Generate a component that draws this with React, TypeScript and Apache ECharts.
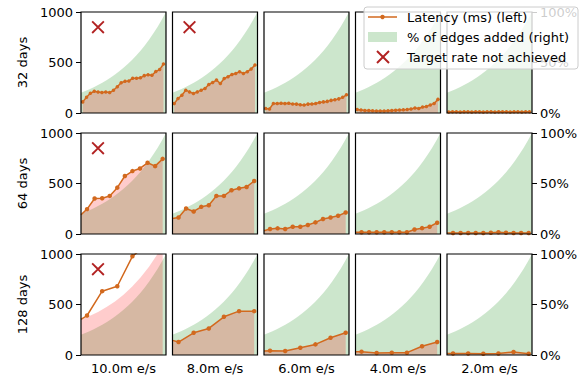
import React, { useEffect, useRef } from "react";
import * as echarts from "echarts";

// ---------- data ----------
const rateLabels = ["10.0m e/s", "8.0m e/s", "6.0m e/s", "4.0m e/s", "2.0m e/s"];
const windowLabels = ["32 days", "64 days", "128 days"];

// x positions (% of run) of latency samples per window
const time32 = [2, 6.5, 11, 15.6, 20.1, 24.6, 29.1, 33.7, 38.2, 42.7, 47.2, 51.8, 56.3, 60.8, 65.3, 69.9, 74.4, 78.9, 83.4, 88, 92.5, 97];
const time64 = [0, 7.1, 16, 24.9, 33.8, 42.7, 51.6, 60.5, 69.4, 78.3, 87.2, 96.1];
const time128 = [0, 7.1, 24.9, 42.7, 60.5, 78.3, 96.1];

// latency (ms)
const lat32_10 = [110, 155, 195, 215, 207, 204, 207, 202, 225, 260, 300, 315, 316, 345, 345, 348, 370, 378, 374, 410, 430, 485];
const lat32_8 = [93, 143, 176, 226, 209, 193, 209, 226, 243, 282, 302, 326, 292, 342, 359, 382, 392, 409, 392, 409, 435, 475];
const lat32_6 = [45, 40, 95, 95, 97, 93, 97, 90, 88, 82, 80, 88, 90, 95, 105, 110, 115, 125, 132, 140, 155, 180];
const lat32_4 = [35, 30, 25, 25, 22, 20, 20, 20, 22, 25, 28, 30, 32, 35, 40, 50, 45, 60, 65, 80, 95, 135];
const lat32_2 = [10, 12, 12, 10, 12, 12, 10, 12, 12, 10, 12, 12, 10, 12, 12, 12, 10, 12, 12, 10, 12, 12];

const lat64_10 = [190, 246, 351, 354, 377, 459, 574, 623, 649, 705, 672, 744];
const lat64_8 = [154, 164, 252, 223, 269, 285, 377, 377, 433, 452, 466, 525];
const lat64_6 = [33, 49, 56, 49, 72, 72, 89, 115, 148, 164, 180, 213];
const lat64_4 = [18, 18, 18, 18, 18, 18, 18, 18, 45, 58, 72, 112];
const lat64_2 = [10, 10, 10, 10, 10, 10, 12, 18, 12, 10, 10, 10];

const lat128_10 = [352, 391, 632, 681, 977, 1100, 1250];
const lat128_8 = [145, 128, 220, 263, 378, 434, 434];
const lat128_6 = [39, 43, 39, 72, 105, 171, 220];
const lat128_4 = [33, 33, 20, 23, 23, 86, 128];
const lat128_2 = [15, 15, 15, 12, 15, 30, 12];

// shaded area under latency where it differs from the latency line (128 days, 10.0m e/s)
const capTime128_10 = [0, 10, 20, 30, 40, 50, 60, 70, 80, 90, 96.1];
const capFill128_10 = [350, 385, 425, 475, 530, 597, 675, 767, 875, 1000, 1050];

// % of edges added (right axis)
const edgesTime = [0, 5, 10, 15, 20, 25, 30, 35, 40, 45, 50, 55, 60, 65, 70, 75, 80, 85, 90, 95, 100];
const edgesPct = [20, 21.7, 23.4, 25.5, 27.6, 29.9, 32.4, 35.1, 38.1, 41.3, 44.7, 48.5, 52.5, 56.9, 61.7, 66.9, 72.5, 78.6, 85.1, 92.3, 100];

// panels where the target rate was not achieved: [row, col]
const notAchieved = [[0, 0], [0, 1], [1, 0], [2, 0]];
const notAchievedMark = [20, 850];

// ---------- layout / style ----------
const FONT = "DejaVu Sans";
const COL_LEFT = [81, 172.5, 264, 355.5, 447];
const ROW_TOP = [12, 133, 254];
const PW = 85;
const PH = 101;
const ORANGE = "#d2691e";
const XRED = "#b22222";
const X_PATH = "path://M1,0 L5,4 L9,0 L10,1 L6,5 L10,9 L9,10 L5,6 L1,10 L0,9 L4,5 L0,1 Z";

const rowTimes = [time32, time64, time128];
const rowLat = [
  [lat32_10, lat32_8, lat32_6, lat32_4, lat32_2],
  [lat64_10, lat64_8, lat64_6, lat64_4, lat64_2],
  [lat128_10, lat128_8, lat128_6, lat128_4, lat128_2],
];

function buildOption() {
  const grid: any[] = [];
  const xAxis: any[] = [];
  const yAxis: any[] = [];
  const series: any[] = [];
  const graphic: any[] = [];
  const txt = { color: "#000", fontSize: 13, fontFamily: FONT };

  for (let r = 0; r < 3; r++) {
    for (let c = 0; c < 5; c++) {
      const i = r * 5 + c;
      grid.push({ left: COL_LEFT[c], top: ROW_TOP[r], width: PW, height: PH });
      xAxis.push({
        type: "value", gridIndex: i, min: 0, max: 100,
        axisLine: { show: false }, axisTick: { show: false }, axisLabel: { show: false },
        splitLine: { show: false },
        name: r === 2 ? rateLabels[c] : "", nameLocation: "middle", nameGap: 7,
        nameTextStyle: txt,
      });
      yAxis.push({
        type: "value", gridIndex: i, position: "left", min: 0, max: 1000, interval: 500,
        axisLine: { show: false },
        axisTick: { show: c === 0, length: 5, lineStyle: { color: "#000", width: 1 } },
        axisLabel: { show: c === 0, margin: 8, formatter: (v: number) => String(v), ...txt },
        splitLine: { show: false },
        name: c === 0 ? windowLabels[r] : "", nameLocation: "middle", nameRotate: 90, nameGap: 52,
        nameTextStyle: txt,
      });
      yAxis.push({
        type: "value", gridIndex: i, position: "right", min: 0, max: 100, interval: 50,
        axisLine: { show: false },
        axisTick: { show: c === 4, length: 5, lineStyle: { color: "#000", width: 1 } },
        axisLabel: { show: c === 4, margin: 8, formatter: "{value}%", ...txt },
        splitLine: { show: false },
      });

      // green: % of edges added
      series.push({
        type: "line", xAxisIndex: i, yAxisIndex: 2 * i + 1,
        data: edgesTime.map((x, k) => [x, edgesPct[k]]),
        symbol: "none", lineStyle: { width: 0 }, smooth: false,
        areaStyle: { color: "#008000", opacity: 0.2 }, silent: true, z: 1,
      });

      const times = rowTimes[r];
      const lat = rowLat[r][c];
      const pairs = times.map((x, k) => [x, lat[k]]);
      const fillPairs = r === 2 && c === 0
        ? capTime128_10.map((x, k) => [x, capFill128_10[k]])
        : pairs;
      series.push({
        type: "line", xAxisIndex: i, yAxisIndex: 2 * i,
        data: fillPairs, symbol: "none", lineStyle: { width: 0 },
        areaStyle: { color: "#ff0000", opacity: 0.2 }, silent: true, z: 2,
      });
      series.push({
        type: "line", xAxisIndex: i, yAxisIndex: 2 * i,
        data: pairs.map((p, k) => (r > 0 && k === 0 ? { value: p, symbol: "none" } : p)),
        symbol: "circle", symbolSize: r === 0 ? 3.5 : 4.5, showAllSymbol: true,
        itemStyle: { color: ORANGE }, lineStyle: { color: ORANGE, width: 1.5 }, z: 3,
      });
      if (notAchieved.some(([rr, cc]) => rr === r && cc === c)) {
        series.push({
          type: "scatter", xAxisIndex: i, yAxisIndex: 2 * i,
          data: [notAchievedMark], symbol: X_PATH, symbolSize: 13,
          itemStyle: { color: XRED, opacity: 1 }, z: 4,
        });
      }
      graphic.push({
        type: "rect", z: 50, silent: true,
        shape: { x: COL_LEFT[c], y: ROW_TOP[r], width: PW, height: PH },
        style: { fill: "none", stroke: "#000", lineWidth: 1.2 },
      });
    }
  }

  // legend
  const LX = 364, LY = 7;
  graphic.push({
    type: "group", z: 100, children: [
      { type: "rect", z: 100, shape: { x: LX, y: LY, width: 214, height: 62, r: 3 },
        style: { fill: "rgba(255,255,255,0.8)", stroke: "#cccccc", lineWidth: 1 } },
      { type: "line", z: 101, shape: { x1: LX + 4, y1: LY + 10, x2: LX + 33, y2: LY + 10 },
        style: { stroke: ORANGE, lineWidth: 1.5 } },
      { type: "circle", z: 102, shape: { cx: LX + 18.5, cy: LY + 10, r: 2.2 }, style: { fill: ORANGE } },
      { type: "text", z: 101, style: { text: "Latency (ms) (left)", x: LX + 43, y: LY + 10, fill: "#000", fontSize: 13, fontFamily: FONT, verticalAlign: "middle" } },
      { type: "rect", z: 101, shape: { x: LX + 4, y: LY + 25, width: 29, height: 10 },
        style: { fill: "rgba(0,128,0,0.2)" } },
      { type: "text", z: 101, style: { text: "% of edges added (right)", x: LX + 43, y: LY + 30, fill: "#000", fontSize: 13, fontFamily: FONT, verticalAlign: "middle" } },
      { type: "line", z: 101, shape: { x1: LX + 13, y1: LY + 44, x2: LX + 25, y2: LY + 56 },
        style: { stroke: XRED, lineWidth: 2 } },
      { type: "line", z: 101, shape: { x1: LX + 25, y1: LY + 44, x2: LX + 13, y2: LY + 56 },
        style: { stroke: XRED, lineWidth: 2 } },
      { type: "text", z: 101, style: { text: "Target rate not achieved", x: LX + 43, y: LY + 50, fill: "#000", fontSize: 13, fontFamily: FONT, verticalAlign: "middle" } },
    ],
  });

  return { animation: false, backgroundColor: "#fff", grid, xAxis, yAxis, series, graphic };
}

export default function App() {
  const ref = useRef<HTMLDivElement>(null);
  useEffect(() => {
    if (!ref.current) return;
    const chart = echarts.init(ref.current, undefined, { renderer: "svg" });
    chart.setOption(buildOption() as any);
    return () => chart.dispose();
  }, []);
  return (
    <div
      ref={ref}
      style={{ position: "fixed", left: 0, top: 0, width: 587, height: 381, background: "#fff" }}
    />
  );
}
